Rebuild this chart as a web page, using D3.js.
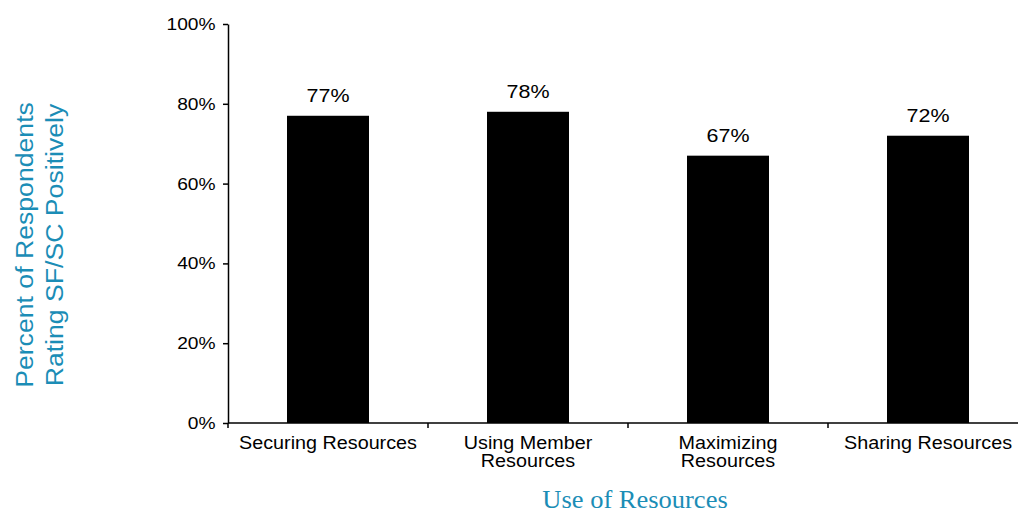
<!DOCTYPE html>
<html>
<head>
<meta charset="utf-8">
<script src="https://cdn.jsdelivr.net/npm/d3@7"></script>
<style>
  body { margin: 0; background: #fff; }
  text { font-family: "Liberation Sans", Arial, sans-serif; }
</style>
</head>
<body>
<svg></svg>
<script>
var categories = ["Securing Resources", "Using Member Resources", "Maximizing Resources", "Sharing Resources"];
var labelLines = [["Securing Resources"], ["Using Member", "Resources"], ["Maximizing", "Resources"], ["Sharing Resources"]];
var values = [0.77, 0.78, 0.67, 0.72];
var yTicks = [0, 0.2, 0.4, 0.6, 0.8, 1];

var svgWidth = 1018, svgHeight = 512;
var plotLeft = 228, plotRight = 1028, plotTop = 24, plotBottom = 423;
var sx = 1.13; // picture is stretched a bit sideways
var teal = "#1b8db6";

var svg = d3.select("svg")
    .attr("width", svgWidth)
    .attr("height", svgHeight);

var xScale = d3.scaleBand()
    .domain(categories)
    .range([plotLeft, plotRight])
    .paddingInner(0.59)
    .paddingOuter(0.295);

var yScale = d3.scaleLinear()
    .domain([0, 1])
    .range([plotBottom, plotTop]);

// bars
svg.selectAll("rect.bar")
  .data(values)
  .enter()
  .append("rect")
  .attr("class", "bar")
  .attr("x", (d, i) => xScale(categories[i]))
  .attr("width", xScale.bandwidth())
  .attr("y", (d) => yScale(d))
  .attr("height", (d) => yScale(0) - yScale(d))
  .attr("fill", "#000");

// value labels
svg.selectAll("text.value")
  .data(values)
  .enter()
  .append("text")
  .attr("class", "value")
  .attr("text-anchor", "middle")
  .attr("font-size", 19)
  .attr("transform", (d, i) => {
    var cx = xScale(categories[i]) + xScale.bandwidth() / 2;
    return "translate(" + cx + "," + (yScale(d) - 14) + ") scale(" + sx + ",1)";
  })
  .text((d) => d3.format(".0%")(d));

// y axis
var yAxis = d3.axisLeft(yScale)
    .tickValues(yTicks)
    .tickFormat(d3.format(".0%"))
    .tickSize(5)
    .tickSizeOuter(0)
    .tickPadding(6);

var gy = svg.append("g")
    .attr("transform", "translate(" + plotLeft + ",0)")
    .call(yAxis);
gy.select(".domain").attr("stroke", "#000").attr("stroke-width", 1.5);
gy.selectAll(".tick line").attr("stroke", "#000").attr("stroke-width", 1.5);
gy.selectAll(".tick text")
  .attr("font-size", 17)
  .attr("fill", "#000")
  .attr("transform", "scale(" + sx + ",1)");

// x axis: line plus ticks on the band edges
var step = xScale.step();
svg.append("line")
  .attr("x1", plotLeft).attr("x2", plotRight)
  .attr("y1", plotBottom).attr("y2", plotBottom)
  .attr("stroke", "#000").attr("stroke-width", 1.5);

svg.selectAll("line.xtick")
  .data(categories)
  .enter()
  .append("line")
  .attr("class", "xtick")
  .attr("x1", (d) => xScale(d) - step * xScale.paddingOuter())
  .attr("x2", (d) => xScale(d) - step * xScale.paddingOuter())
  .attr("y1", plotBottom).attr("y2", plotBottom + 5)
  .attr("stroke", "#000").attr("stroke-width", 1.5);

// x category labels
var xl = svg.selectAll("g.xlabel")
  .data(labelLines)
  .enter()
  .append("g")
  .attr("class", "xlabel")
  .attr("transform", (d, i) => {
    var cx = xScale(categories[i]) + xScale.bandwidth() / 2;
    return "translate(" + cx + "," + (plotBottom + 26) + ") scale(" + sx + ",1)";
  });

xl.selectAll("text")
  .data((d) => d)
  .enter()
  .append("text")
  .attr("text-anchor", "middle")
  .attr("font-size", 17.5)
  .attr("y", (d, j) => j * 18)
  .text((d) => d);

// axis titles
svg.append("text")
  .attr("text-anchor", "middle")
  .style("font-family", "'Liberation Serif', 'Times New Roman', serif")
  .attr("font-size", 25)
  .attr("fill", teal)
  .attr("transform", "translate(635,508) scale(1.06,1)")
  .text("Use of Resources");

var yTitle = ["Percent of Respondents", "Rating SF/SC Positively"];
svg.selectAll("text.ytitle")
  .data(yTitle)
  .enter()
  .append("text")
  .attr("class", "ytitle")
  .attr("text-anchor", "middle")
  .attr("font-size", 24)
  .attr("fill", teal)
  .attr("transform", (d, i) => "translate(" + (33 + i * 30) + ",245) rotate(-90) scale(1.11,1)")
  .text((d) => d);
</script>
</body>
</html>
